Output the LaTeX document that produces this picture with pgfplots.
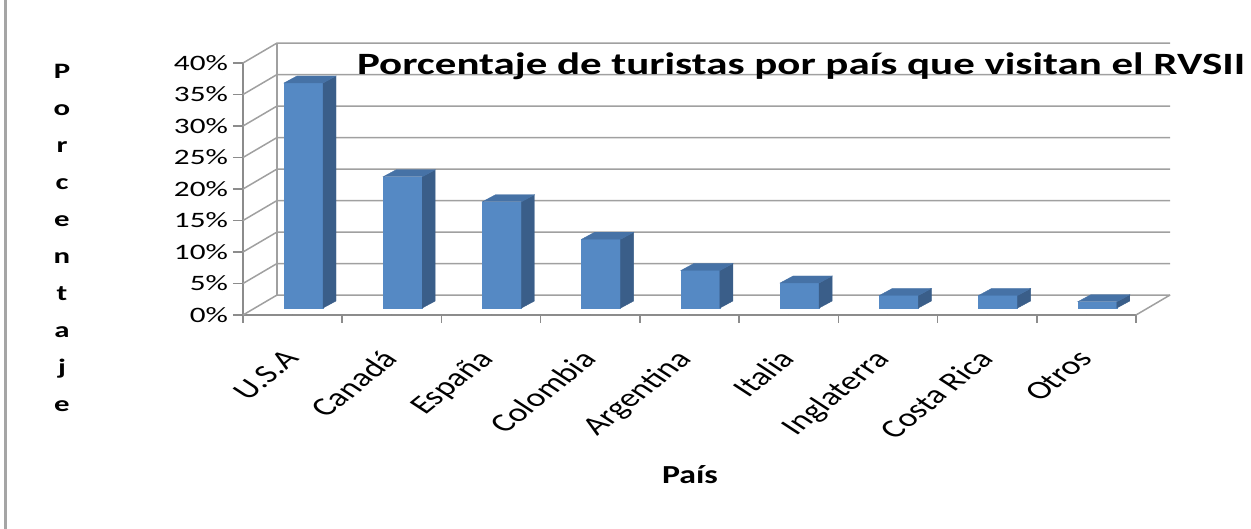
\documentclass[border=0pt]{standalone}
\usepackage{fontspec}
\setmainfont{Carlito}
\usepackage{graphicx}
\usepackage{pgfplots}
\usepackage{pgfplotstable}
\pgfplotsset{compat=1.18}
\definecolor{barfront}{RGB}{85,137,196}
\definecolor{barside}{RGB}{58,94,137}
\definecolor{bartop}{RGB}{70,114,166}
\definecolor{gridc}{RGB}{160,160,160}
\definecolor{axisc}{RGB}{140,140,140}
\definecolor{borderc}{RGB}{165,165,165}
\newcommand\xl[1]{\scalebox{1.38}[1]{\rotatebox{48}{#1}}}

\pgfplotstableread{
i v
0 36
1 21
2 17
3 11
4 6
5 4
6 2
7 2
8 1
}\datatable

\begin{document}
\begin{tikzpicture}
\useasboundingbox (-243pt,-214pt) rectangle (1008pt,315pt);
\fill[borderc] (-238.5pt,-214pt) rectangle (-235.5pt,315pt);
\begin{axis}[
  at={(0pt,0pt)}, anchor=south west,
  scale only axis, width=893pt, height=252pt,
  xmin=-0.5, xmax=8.5, ymin=0, ymax=40,
  clip=false,
  axis x line*=bottom, axis y line*=left,
  axis line style={axisc, line width=1.5pt, -},
  xtick={0,...,8},
  xticklabels={\xl{U.S.A}, \xl{Canadá}, \xl{España}, \xl{Colombia}, \xl{Argentina}, \xl{Italia}, \xl{Inglaterra}, \xl{Costa Rica}, \xl{Otros}},
  minor xtick={-0.5,0.5,...,8.5},
  major x tick style={draw=none},
  minor x tick style={axisc, line width=1.5pt},
  minor tick length=8pt,
  ytick={0,5,...,40},
  yticklabels={0\%,5\%,10\%,15\%,20\%,25\%,30\%,35\%,40\%},
  y tick style={axisc, line width=1.5pt},
  major tick length=10pt,
  tick align=outside,
  y tick label style={font=\fontsize{22}{26}\selectfont, anchor=east, xscale=1.42},
  x tick label style={font=\fontsize{26}{30}\selectfont, inner sep=0pt, anchor=north east, xshift=8pt, yshift=-23pt},
  title={Porcentaje de turistas por país que visitan el RVSII},
  title style={at={(axis description cs:0.625,0.932)}, anchor=base, font=\fontsize{31}{36}\selectfont\bfseries, xscale=1.385},
  xlabel={País},
  every axis x label/.style={at={(axis description cs:0.5006,-0.667)}, anchor=base, font=\fontsize{26}{30}\selectfont\bfseries, xscale=1.3},
  ylabel={P\\o\\r\\c\\e\\n\\t\\a\\j\\e},
  every axis y label/.style={at={(axis description cs:-0.2027,0.995)}, anchor=north, inner sep=0pt, align=center, font=\fontsize{22}{37}\selectfont\bfseries, xscale=1.4},
]
% side wall and back wall gridlines
\addplot[gridc, line width=1.5pt] coordinates {(-0.5,0) (-0.157,3.17) (8.843,3.17)};
\addplot[gridc, line width=1.5pt] coordinates {(-0.5,5) (-0.157,8.17) (8.843,8.17)};
\addplot[gridc, line width=1.5pt] coordinates {(-0.5,10) (-0.157,13.17) (8.843,13.17)};
\addplot[gridc, line width=1.5pt] coordinates {(-0.5,15) (-0.157,18.17) (8.843,18.17)};
\addplot[gridc, line width=1.5pt] coordinates {(-0.5,20) (-0.157,23.17) (8.843,23.17)};
\addplot[gridc, line width=1.5pt] coordinates {(-0.5,25) (-0.157,28.17) (8.843,28.17)};
\addplot[gridc, line width=1.5pt] coordinates {(-0.5,30) (-0.157,33.17) (8.843,33.17)};
\addplot[gridc, line width=1.5pt] coordinates {(-0.5,35) (-0.157,38.17) (8.843,38.17)};
\addplot[gridc, line width=1.5pt] coordinates {(-0.5,40) (-0.157,43.17) (8.843,43.17)};
\addplot[gridc, line width=1.5pt] coordinates {(-0.157,3.17) (-0.157,43.17)};
\addplot[gridc, line width=1.5pt] coordinates {(8.5,0) (8.843,3.17)};
% 3D bars
\addplot[
  scatter, only marks, mark=square*, mark size=0pt,
  mark options={draw=none, fill=none},
  point meta=\thisrow{v},
  visualization depends on={\thisrow{v} \as \val},
  scatter/@pre marker code/.code={%
    \pgfmathsetlengthmacro{\h}{\val*6.25pt}%
    \fill[barfront] (-8.6pt,7pt) rectangle (30.4pt,7pt+\h);
    \fill[barside] (30.4pt,7pt) -- (30.4pt,7pt+\h) -- (43.4pt,14pt+\h) -- (43.4pt,14pt) -- cycle;
    \fill[bartop] (-8.6pt,7pt+\h) -- (30.4pt,7pt+\h) -- (43.4pt,14pt+\h) -- (4.4pt,14pt+\h) -- cycle;
  },
  scatter/@post marker code/.code={},
] table[x=i, y expr=0] {\datatable};
\end{axis}
\end{tikzpicture}
\end{document}
